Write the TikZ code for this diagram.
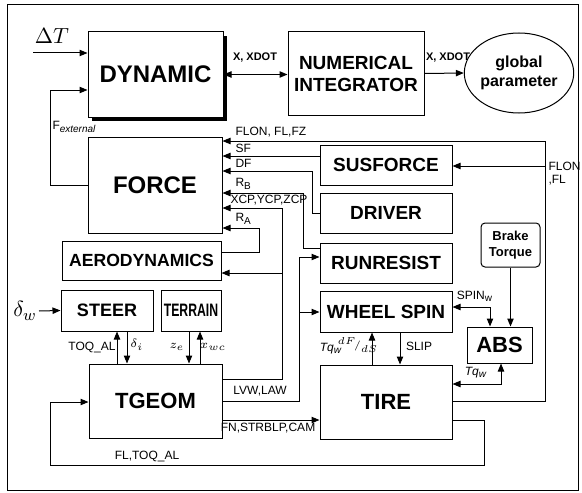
\documentclass[tikz,border=0pt]{standalone}
\usepackage{fontspec}
\setmainfont{Liberation Sans}
\usetikzlibrary{arrows.meta,shapes.geometric,shadows}

\tikzset{
  block/.style={draw, fill=white, inner sep=0pt, minimum width=66pt, minimum height=20pt,
    font=\fontsize{9.5}{11}\selectfont\bfseries},
  arr/.style={-{Triangle[length=4pt,width=3.2pt]}},
  darr/.style={{Triangle[length=4pt,width=3.2pt]}-{Triangle[length=4pt,width=3.2pt]}},
  sig/.style={inner sep=0pt, font=\fontsize{6}{6.5}\selectfont},
  sigb/.style={inner sep=0pt, font=\fontsize{5.5}{6}\selectfont\bfseries},
}

\begin{document}
\begin{tikzpicture}[x=0.5pt, y=-0.5pt, line width=0.5pt]
  \useasboundingbox (0,0) rectangle (582,492);
  \draw (7,5) rectangle (578,490);

  % main blocks
  \node[block, minimum width=67.5pt, minimum height=42.5pt, font=\fontsize{12}{12}\selectfont\bfseries,
    drop shadow={shadow xshift=2pt, shadow yshift=-2pt, fill=black, opacity=1}] (dyn) at (155.5,74.5) {DYNAMIC};
  \node[block, minimum width=68pt, minimum height=41.5pt, align=center] (numint) at (356,73.5) {NUMERICAL\\INTEGRATOR};
  \node[draw, ellipse, minimum width=46pt, minimum height=40pt, inner sep=0pt, align=center,
    font=\fontsize{8}{9.5}\selectfont\bfseries] (glob) at (519,73) {global\\parameter};
  \node[block, minimum width=67pt, minimum height=48pt, font=\fontsize{12}{12}\selectfont\bfseries] (force) at (155,185) {FORCE};
  \node[block] (susf) at (386,165) {SUSFORCE};
  \node[block] (driver) at (386,213) {DRIVER};
  \node[block] (runres) at (386,263) {RUNRESIST};
  \node[block, minimum height=20.5pt] (wspin) at (386,311.5) {WHEEL SPIN};
  \node[block, minimum width=79.5pt, minimum height=19.5pt, font=\fontsize{8.8}{10}\selectfont\bfseries] (aero) at (141.5,260.5) {AERODYNAMICS};
  \node[block, minimum width=46pt, minimum height=20.5pt, font=\fontsize{9}{10}\selectfont\bfseries] (steer) at (107,310.5) {STEER};
  \node[block, minimum width=30pt, minimum height=20.5pt, font=\fontsize{9}{10}\selectfont\bfseries] (terrain) at (191,310.5) {\scalebox{0.68}[1]{TERRAIN}};
  \node[block, minimum width=66.5pt, minimum height=37pt, font=\fontsize{11}{11}\selectfont\bfseries] (tgeom) at (155.5,401) {TGEOM};
  \node[block, minimum width=66pt, minimum height=37pt, font=\fontsize{11}{11}\selectfont\bfseries] (tire) at (386,402) {TIRE};
  \node[block, minimum width=32.5pt, minimum height=18pt, font=\fontsize{11}{11}\selectfont\bfseries] (abs) at (499.5,345) {ABS};
  \node[block, rounded corners=2pt, minimum width=29.5pt, minimum height=22pt, align=center,
    font=\fontsize{6.5}{8}\selectfont\bfseries] (brake) at (510.5,245) {Brake\\Torque};

  % free ends and bends
  \coordinate (dtin) at (33,53);
  \coordinate (dwin) at (39,311);
  \coordinate (fext) at (50,90);
  \coordinate (flonR) at (545,141);
  \coordinate (xcpR) at (282,208);
  \coordinate (lvwR) at (299,257);
  \coordinate (tqL) at (50,402);

  % inputs
  \draw[arr] (dtin) -- (dtin -| dyn.west);
  \node[font=\fontsize{11}{11}\selectfont] (dtlbl) at (52,36) {$\Delta T$};
  \draw[arr] (dwin) -- (steer.west);
  \node[font=\fontsize{11}{11}\selectfont] (dwlbl) at (25,311) {$\delta_w$};

  % dynamic loop
  \draw[arr] (force.west) -| (fext) -- (fext -| dyn.west);
  \node[sig, anchor=west] (fextlbl) at (52,127) {F\textsubscript{\itshape\tiny external}};
  \draw[darr] (dyn.east) -- (dyn.east -| numint.west);
  \node[sigb] (xlbl1) at (255,58) {X, XDOT};
  \draw[arr] (numint.east) -- (glob.west);
  \node[sigb] (xlbl2) at (448,58) {X, XDOT};

  % into FORCE
  \draw[arr] (tire.east |- 0,401) -| (flonR) -- (force.east |- flonR);
  \draw[arr] (flonR |- 0,166) -- (susf.east |- 0,166);
  \node[sig, anchor=south west] (flonlbl) at (235,138) {FLON, FL,FZ};
  \node[sig, anchor=west, align=left] (flonlbl2) at (548,174) {FLON\\,FL};
  \draw[arr] (susf.west |- 0,156) -- (force.east |- 0,156);
  \node[sig, anchor=south west] (sflbl) at (235,153) {SF};
  \draw[arr] (driver.west) -- ++(-7,0) |- (force.east |- 0,171);
  \node[sig, anchor=south west] (dflbl) at (235,168) {DF};
  \draw[arr] (runres.west |- 0,248) -| (303,193) -- (force.east |- 0,193);
  \node[sig, anchor=south west] (rblbl) at (235,190) {R\textsubscript{B}};
  \draw[arr] (tgeom.east |- 0,379) -| (xcpR) -- (force.east |- xcpR);
  \draw[arr] (xcpR |- 0,273) -- (aero.east |- 0,273);
  \node[sig, anchor=south west] (xcplbl) at (230,206) {XCP,YCP,ZCP};
  \draw[arr] (aero.east |- 0,252) -| (259,228) -- (force.east |- 0,228);
  \node[sig, anchor=south west] (ralbl) at (235,225) {R\textsubscript{A}};

  % TGEOM outputs
  \draw[arr] (tgeom.east |- 0,401) -| (lvwR) -- (runres.west |- lvwR);
  \draw[arr] (lvwR |- 0,312) -- (wspin.west |- 0,312);
  \node[sig] (lvwlbl) at (260,391) {LVW,LAW};
  \draw[arr] (tgeom.east |- 0,420) -- (tire.west |- 0,420);
  \node[sig] (fnlbl) at (268,428) {FN,STRBLP,CAM};
  \draw[arr] (tire.east |- 0,420) -| (484,465) -| (tqL) -- (tqL -| tgeom.west);
  \node[sig] (fltlbl) at (147,456) {FL,TOQ\_AL};

  % STEER and TERRAIN
  \draw[arr] (tgeom.north -| 117,0) -- (steer.south -| 117,0);
  \node[sig] (toqlbl) at (92,347) {TOQ\_AL};
  \draw[arr] (steer.south -| 127,0) -- (tgeom.north -| 127,0);
  \node[sig] (dilbl) at (137,345) {$\delta_i$};
  \draw[arr] (terrain.south -| 189,0) -- (tgeom.north -| 189,0);
  \node[sig] (zelbl) at (177,347) {$z_e$};
  \draw[arr] (tgeom.north -| 200,0) -- (terrain.south -| 200,0);
  \node[sig] (xwlbl) at (213,347) {$x_{wc}$};

  % TIRE, WHEEL SPIN, ABS
  \draw[arr] (tire.north -| 372,0) -- (wspin.south -| 372,0);
  \node[sig] (tqwlbl) at (331,349) {\itshape Tq\textsubscript{w}};
  \node[sig] (dfdslbl) at (358,345) {$\scriptscriptstyle {}^{dF}\!/_{dS}$};
  \draw[arr] (wspin.south -| 400,0) -- (tire.north -| 400,0);
  \node[sig] (sliplbl) at (419,346) {SLIP};
  \draw[darr] (wspin.east |- 0,307) -| (abs.north -| 490,0);
  \node[sig] (spinlbl) at (475,296) {SPIN\textsubscript{w}};
  \draw[arr] (brake.south) -- (brake.south |- abs.north);
  \draw[darr] (tire.east |- 0,384) -| (abs.south -| 501,0);
  \node[sig] (tqalbl) at (476,373) {\itshape Tq\textsubscript{w}};
\end{tikzpicture}
\end{document}
